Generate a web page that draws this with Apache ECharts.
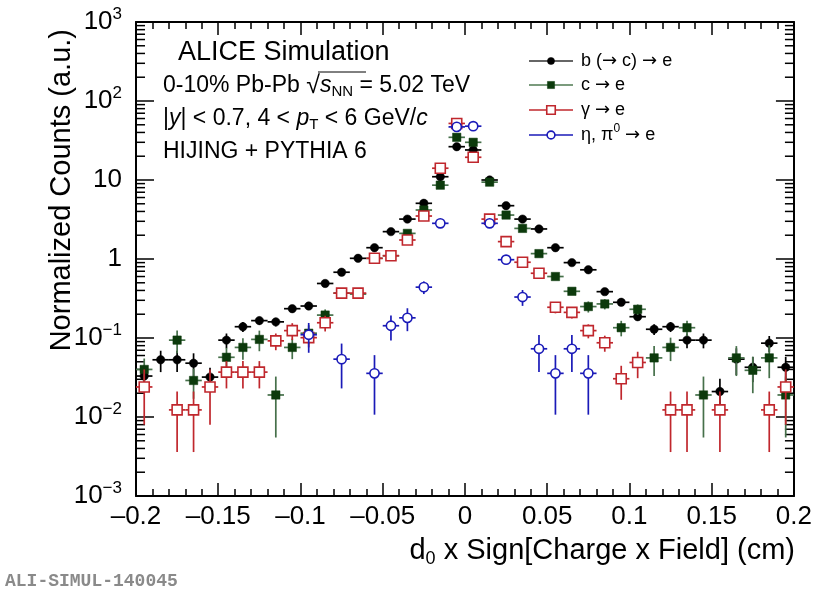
<!DOCTYPE html>
<html>
<head>
<meta charset="utf-8">
<script src="https://cdn.jsdelivr.net/npm/echarts@6/dist/echarts.min.js"></script>
<style>
  html, body { margin: 0; padding: 0; background: #fff; }
  #chart { width: 815px; height: 591px; }
</style>
</head>
<body>
<div id="chart"></div>
<script>
// Impact-parameter bins (cm), width 0.01
const binCenters = [
  -0.195, -0.185, -0.175, -0.165, -0.155, -0.145, -0.135, -0.125, -0.115, -0.105,
  -0.095, -0.085, -0.075, -0.065, -0.055, -0.045, -0.035, -0.025, -0.015, -0.005,
   0.005,  0.015,  0.025,  0.035,  0.045,  0.055,  0.065,  0.075,  0.085,  0.095,
   0.105,  0.115,  0.125,  0.135,  0.145,  0.155,  0.165,  0.175,  0.185,  0.195
];
const binHalfWidth = 0.005;

// b (-> c) -> e
const beautyVals = [
  0.033, 0.053, 0.053, 0.048, 0.032, 0.094, 0.139, 0.166, 0.16, 0.235,
  0.254, 0.49, 0.68, 1.02, 1.39, 2.22, 3.2, 5.07, 11, 26.4,
  24, 10, 4.73, 3.2, 2.4, 1.39, 0.9, 0.73, 0.386, 0.283,
  0.186, 0.129, 0.139, 0.094, 0.094, 0.021, 0.054, 0.0426, 0.086, 0.0426
];
const beautyErr = [
  0.012, 0.016, 0.016, 0.016, 0.01, 0.02, 0.02, 0.02, 0.02, null,
  null, null, null, null, null, null, null, null, null, null,
  null, null, null, null, null, null, null, null, null, null,
  null, 0.02, 0.02, 0.02, 0.02, 0.0095, 0.02, 0.015, 0.02, 0.015
];

// c -> e
const charmVals = [
  0.04, null, 0.094, 0.029, null, 0.057, 0.076, 0.096, 0.019, 0.076,
  0.115, 0.195, 0.37, 0.36, 1.02, 1.1, 2.11, 4.17, 8.6, 34.7,
  30, 9.4, 3.6, 2.44, 1.17, 0.6, 0.39, 0.25, 0.27, 0.135,
  0.231, 0.056, 0.076, 0.135, 0.019, null, 0.056, 0.039, 0.056, 0.019
];
const charmErr = [
  0.015, null, 0.03, 0.012, null, 0.018, 0.023, 0.028, 0.0135, 0.022,
  0.03, 0.035, null, null, null, null, null, null, null, null,
  null, null, null, null, null, null, null, 0.04, 0.04, 0.03,
  0.035, 0.023, 0.025, 0.03, 0.0135, null, 0.023, 0.019, 0.025, 0.0135
];

// gamma -> e
const gammaVals = [
  0.024, null, 0.0123, 0.0123, 0.024, 0.037, 0.037, 0.037, 0.092, 0.124,
  0.101, 0.156, 0.37, 0.37, 1.02, 1.1, 1.74, 3.5, 14.1, 52,
  19.4, 3.2, 1.66, 0.91, 0.66, 0.245, 0.211, 0.124, 0.087, 0.0305,
  0.049, null, 0.0123, 0.0123, null, 0.0123, null, null, 0.0123, 0.024
];
const gammaErr = [
  0.016, null, 0.0087, 0.0087, 0.016, 0.014, 0.014, 0.014, 0.022, 0.03,
  0.025, 0.035, null, null, null, null, null, null, null, null,
  null, null, null, null, null, 0.04, 0.035, 0.025, 0.02, 0.014,
  0.018, null, 0.0087, 0.0087, null, 0.0087, null, null, 0.0087, 0.016
];

// eta, pi0 -> e
const lightVals = [
  null, null, null, null, null, null, null, null, null, null,
  0.11, null, 0.054, null, 0.0357, 0.143, 0.18, 0.44, 2.83, 47,
  48, 2.83, 0.98, 0.33, 0.073, 0.0357, 0.073, 0.0357, null, null,
  null, null, null, null, null, null, null, null, null, null
];
const lightErr = [
  null, null, null, null, null, null, null, null, null, null,
  0.045, null, 0.031, null, 0.025, 0.05, 0.058, 0.08, null, null,
  null, null, 0.1, 0.075, 0.036, 0.025, 0.036, 0.025, null, null,
  null, null, null, null, null, null, null, null, null, null
];

const seriesNames = [
  'b ({ar|\u2192} c) {ar|\u2192} e',
  'c {ar|\u2192} e',
  '\u03b3 {ar|\u2192} e',
  '\u03b7, \u03c0{sup|0} {ar|\u2192} e'
];

const FONT = '"Liberation Sans", Arial, Helvetica, sans-serif';
const Y_MIN = 1e-3, Y_MAX = 1e3;

const styles = [
  { shape: 'circle', r: 4.2, fill: '#000000', stroke: '#000000', bar: '#000000', line: '#333333' },
  { shape: 'rect', r: 4.2, fill: '#0c3a0c', stroke: '#0c3a0c', bar: '#46704a', line: '#4f7a52' },
  { shape: 'rect', r: 5, fill: '#ffffff', stroke: '#c0272d', bar: '#c0272d', line: '#c0272d', open: true },
  { shape: 'circle', r: 4.6, fill: '#ffffff', stroke: '#1a1ab8', bar: '#1a1ab8', line: '#1a1ab8', open: true }
];

function markerEl(st, cx, cy, scale) {
  const r = st.r * (scale || 1);
  const style = { fill: st.fill, stroke: st.stroke, lineWidth: st.open ? 1.6 : 0.5 };
  if (st.shape === 'circle') {
    return { type: 'circle', shape: { cx: cx, cy: cy, r: r }, style: style, z2: 10 };
  }
  return { type: 'rect', shape: { x: cx - r, y: cy - r, width: 2 * r, height: 2 * r }, style: style, z2: 10 };
}

function buildData(vals, errs) {
  const out = [];
  for (let i = 0; i < binCenters.length; i++) {
    if (vals[i] == null) continue;
    out.push([binCenters[i], vals[i], errs[i] == null ? 0 : errs[i]]);
  }
  return out;
}

function histSeries(name, vals, errs, st, z) {
  return {
    type: 'custom',
    name: name,
    z: z,
    clip: true,
    data: buildData(vals, errs),
    renderItem: function (params, api) {
      const x = api.value(0), y = api.value(1), e = api.value(2);
      const p = api.coord([x, y]);
      const xl = api.coord([x - binHalfWidth, y])[0];
      const xr = api.coord([x + binHalfWidth, y])[0];
      const barStyle = { stroke: st.bar, lineWidth: 1.7 };
      const children = [
        { type: 'line', shape: { x1: xl, y1: p[1], x2: xr, y2: p[1] }, style: barStyle }
      ];
      if (e > 0) {
        const top = api.coord([x, y + e])[1];
        const lowVal = y - e > Y_MIN ? y - e : Y_MIN;
        const bottom = api.coord([x, lowVal])[1];
        children.push({ type: 'line', shape: { x1: p[0], y1: top, x2: p[0], y2: bottom }, style: barStyle });
      }
      children.push(markerEl(st, p[0], p[1]));
      return { type: 'group', children: children };
    }
  };
}

// ROOT-style minor ticks (2..9 per decade) on both vertical frame edges
const yMinorTickVals = [];
for (let k = -3; k < 3; k++) {
  for (let m = 2; m <= 9; m++) yMinorTickVals.push(m * Math.pow(10, k));
}
const yMinorTicks = {
  type: 'custom',
  silent: true,
  z: 1,
  data: yMinorTickVals.map(v => [0, v]),
  renderItem: function (params, api) {
    const v = api.value(1);
    const l = api.coord([-0.2, v]);
    const r = api.coord([0.2, v]);
    const st = { stroke: '#000', lineWidth: 1.5 };
    return {
      type: 'group',
      children: [
        { type: 'line', shape: { x1: l[0], y1: l[1], x2: l[0] + 9, y2: l[1] }, style: st },
        { type: 'line', shape: { x1: r[0], y1: r[1], x2: r[0] - 9, y2: r[1] }, style: st }
      ]
    };
  }
};

function yLabel(v) {
  const e = Math.round(Math.log10(v));
  if (e === 0) return '1';
  if (e === 1) return '10';
  return '10{sup|' + (e < 0 ? '\u2212' + (-e) : e) + '}';
}
function xLabel(v) {
  const r = Math.round(v * 100) / 100;
  if (r === 0) return '0';
  return String(r).replace('-', '\u2013');
}

const axisLineStyle = { color: '#000', width: 2 };

const legendRows = [61, 85, 110, 135];
const legendGraphics = [];
seriesNames.forEach((name, i) => {
  const st = styles[i];
  const y = legendRows[i];
  legendGraphics.push({ type: 'line', shape: { x1: 529, y1: y, x2: 573, y2: y }, style: { stroke: st.line, lineWidth: 1.6 } });
  legendGraphics.push(markerEl(st, 551, y, 0.85));
  legendGraphics.push({
    type: 'text', x: 581, y: y,
    style: {
      text: name, font: '18px ' + FONT, fill: '#000', textVerticalAlign: 'middle',
      rich: {
        sup: { fontSize: 12, fontFamily: FONT, padding: [0, 0, 12, 0] },
        ar: { fontSize: 18, fontFamily: '"DejaVu Sans", sans-serif' }
      }
    }
  });
});

const chart = echarts.init(document.getElementById('chart'), null, { renderer: 'canvas' });

chart.setOption({
  animation: false,
  backgroundColor: '#ffffff',
  grid: { left: 136, right: 21, top: 22, bottom: 95 },
  xAxis: [
    {
      type: 'value', min: -0.2, max: 0.2, interval: 0.05,
      axisLine: { show: true, onZero: false, lineStyle: axisLineStyle },
      axisTick: { show: true, inside: true, length: 13, lineStyle: { color: '#000', width: 1.5 } },
      minorTick: { show: true, splitNumber: 5, length: 7, lineStyle: { color: '#000', width: 1.5 } },
      axisLabel: { formatter: xLabel, fontSize: 26, fontFamily: FONT, color: '#000', margin: 8 },
      splitLine: { show: false }
    },
    {
      type: 'value', min: -0.2, max: 0.2, interval: 0.05, position: 'top',
      axisLine: { show: true, onZero: false, lineStyle: axisLineStyle },
      axisTick: { show: true, inside: true, length: 13, lineStyle: { color: '#000', width: 1.5 } },
      minorTick: { show: true, splitNumber: 5, length: 7, lineStyle: { color: '#000', width: 1.5 } },
      axisLabel: { show: false },
      splitLine: { show: false }
    }
  ],
  yAxis: [
    {
      type: 'log', logBase: 10, min: Y_MIN, max: Y_MAX,
      axisLine: { show: true, onZero: false, lineStyle: axisLineStyle },
      axisTick: { show: true, inside: true, length: 18, lineStyle: { color: '#000', width: 1.5 } },
      axisLabel: {
        formatter: yLabel, fontSize: 26, fontFamily: FONT, color: '#000', margin: 14,
        rich: { sup: { fontSize: 17, fontFamily: FONT, padding: [0, 0, 16, 0] } }
      },
      splitLine: { show: false }
    },
    {
      type: 'log', logBase: 10, min: Y_MIN, max: Y_MAX, position: 'right',
      axisLine: { show: true, onZero: false, lineStyle: axisLineStyle },
      axisTick: { show: true, inside: true, length: 18, lineStyle: { color: '#000', width: 1.5 } },
      axisLabel: { show: false },
      splitLine: { show: false }
    }
  ],
  series: [
    yMinorTicks,
    histSeries(seriesNames[0], beautyVals, beautyErr, styles[0], 3),
    histSeries(seriesNames[1], charmVals, charmErr, styles[1], 4),
    histSeries(seriesNames[2], gammaVals, gammaErr, styles[2], 5),
    histSeries(seriesNames[3], lightVals, lightErr, styles[3], 6)
  ],
  graphic: [
    {
      type: 'text', x: 62, y: 29, rotation: Math.PI / 2,
      style: { text: 'Normalized Counts (a.u.)', font: '29px ' + FONT, fill: '#000', textAlign: 'right', textVerticalAlign: 'middle' }
    },
    {
      type: 'text', x: 795, y: 551,
      style: {
        text: 'd{sub|0} x Sign[Charge x Field] (cm)', font: '29px ' + FONT, fill: '#000',
        textAlign: 'right', textVerticalAlign: 'middle',
        rich: { sub: { fontSize: 18, fontFamily: FONT, padding: [16, 0, 0, 0] } }
      }
    },
    {
      type: 'text', x: 178, y: 53,
      style: { text: 'ALICE Simulation', font: '27px ' + FONT, fill: '#000', textVerticalAlign: 'middle' }
    },
    {
      type: 'text', x: 163, y: 86,
      style: {
        text: '0-10% Pb-Pb {sq|\u221a}{it|s}{sub|NN} = 5.02 TeV', font: '23px ' + FONT, fill: '#000',
        textVerticalAlign: 'middle',
        rich: {
          sq: { fontSize: 25, fontFamily: FONT },
          it: { fontSize: 23, fontFamily: FONT, fontStyle: 'italic' },
          sub: { fontSize: 15, fontFamily: FONT, padding: [12, 0, 0, 0] }
        }
      }
    },
    {
      type: 'line', shape: { x1: 318, y1: 72, x2: 366, y2: 72 }, style: { stroke: '#000', lineWidth: 1 }
    },
    {
      type: 'text', x: 163, y: 119,
      style: {
        text: '|{it|y}| < 0.7, 4 < {it|p}{sub|T} < 6 GeV/{it|c}', font: '23px ' + FONT, fill: '#000',
        textVerticalAlign: 'middle',
        rich: {
          it: { fontSize: 23, fontFamily: FONT, fontStyle: 'italic' },
          sub: { fontSize: 15, fontFamily: FONT, padding: [12, 0, 0, 0] }
        }
      }
    },
    {
      type: 'text', x: 163, y: 152,
      style: { text: 'HIJING + PYTHIA 6', font: '23px ' + FONT, fill: '#000', textVerticalAlign: 'middle' }
    },
    {
      type: 'text', x: 5, y: 581,
      style: { text: 'ALI-SIMUL-140045', font: 'bold 18px "Liberation Mono", "DejaVu Sans Mono", monospace', fill: '#8a8a8a', textVerticalAlign: 'middle' }
    }
  ].concat(legendGraphics)
});
</script>
</body>
</html>
